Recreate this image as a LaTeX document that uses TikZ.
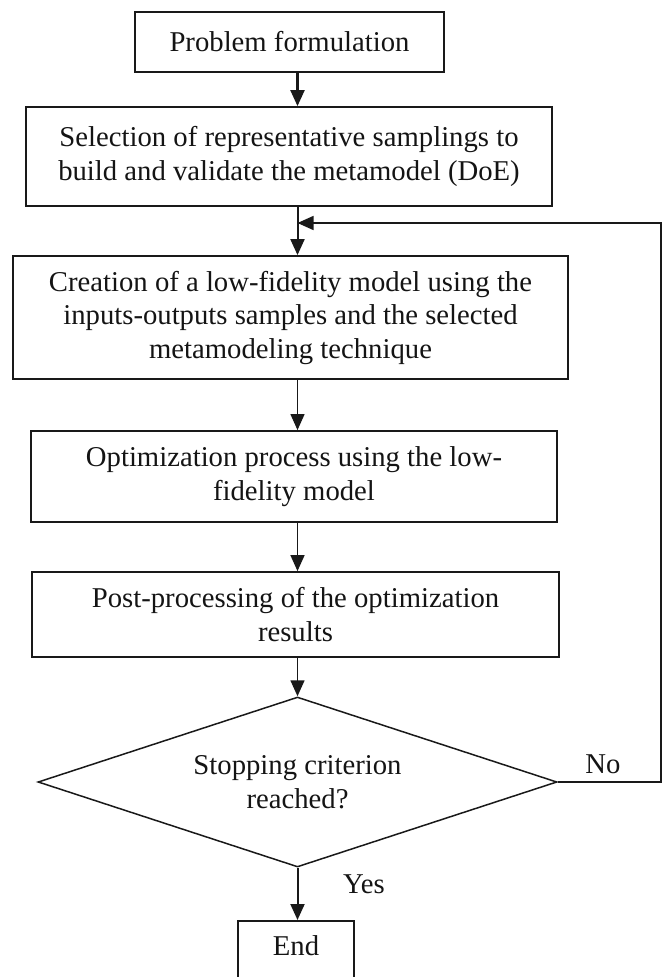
\documentclass[tikz,border=0pt]{standalone}
\usepackage{fontspec}
\setmainfont{Liberation Serif}
\usetikzlibrary{arrows.meta,shapes.geometric}
\begin{document}
\begin{tikzpicture}[x=1pt,y=-1pt,
  every node/.style={font=\fontsize{28.7}{33.5}\selectfont, text=black!92},
  stepbox/.style 2 args={draw=black!90, line width=1.8pt, inner sep=0pt,
    align=center, minimum width=#1, minimum height=#2},
  decision/.style={diamond, draw=black!90, line width=1.5pt, inner sep=0pt,
    align=center, aspect=3.05, minimum width=519pt, minimum height=170pt},
  flow/.style={draw=black!90, line width=1.3pt,
    -{Triangle[length=16pt,width=14pt]}},
  plain/.style={inner sep=0pt}]

\useasboundingbox (0,0) rectangle (665,977);
\clip (0,0) rectangle (665,977);

% process steps
\node[stepbox={309pt}{60pt}] (formulate) at (289.5,42) {Problem formulation};
\node[stepbox={526pt}{99pt}] (sampling) at (289,156.5)
  {Selection of representative samplings to\\build and validate the metamodel (DoE)};
\node[stepbox={555pt}{123pt}] (lowfi) at (290.5,317.5)
  {Creation of a low-fidelity model using the\\inputs-outputs samples and the selected\\metamodeling technique};
\node[stepbox={526pt}{91pt}] (optim) at (294,476.5)
  {Optimization process using the low-\\fidelity model};
\node[stepbox={527pt}{85pt}] (post) at (295.5,614.5)
  {Post-processing of the optimization\\results};
\node[decision] (stop) at (297.5,782) {Stopping criterion\\reached?};
\node[stepbox={116pt}{0pt}, text height=35pt, text depth=25pt, anchor=north]
  (finish) at (296,920) {End};

% branch labels
\node[plain] (nolabel) at (603,764) {No};
\node[plain] (yeslabel) at (364,884) {Yes};

% junction of the feedback loop and its outer corner
\coordinate (merge) at (297.5,223);
\coordinate (corner) at (661,223);

% main flow
\draw[flow, line width=2.2pt] (formulate.south -| stop.north) -- (sampling.north -| stop.north);
\draw[flow, line width=2pt] (sampling.south -| merge) -- (lowfi.north -| merge);
\draw[flow, line width=1.2pt] (lowfi.south -| stop.north) -- (optim.north -| stop.north);
\draw[flow, line width=1.4pt] (optim.south -| stop.north) -- (post.north -| stop.north);
\draw[flow, line width=1.6pt] (post.south -| stop.north) -- (stop.north);
\draw[flow, line width=2pt] (stop.south) -- (finish.north -| stop.south);

% loop back when the criterion is not met
\draw[flow, line width=1.4pt] (stop.east) -| (corner) -- (merge);
\end{tikzpicture}
\end{document}
